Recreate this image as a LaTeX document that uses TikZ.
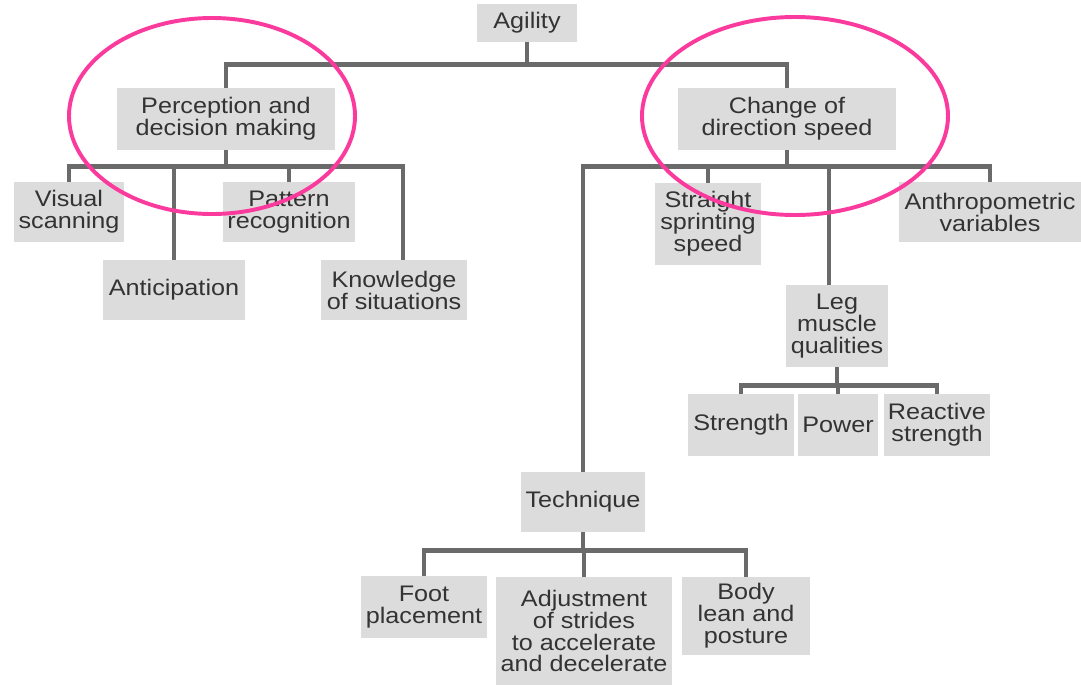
\documentclass[tikz,border=0pt]{standalone}
\usepackage{fontspec}
\setmainfont{Liberation Sans}[FakeStretch=1.12]
\usetikzlibrary{calc}
\definecolor{agilbox}{HTML}{DCDCDC}
\definecolor{agilline}{HTML}{6A6A6A}
\definecolor{agiltext}{HTML}{333333}
\definecolor{agilpink}{HTML}{FA3A9C}

\begin{document}
\begin{tikzpicture}[
    x=0.025cm, y=-0.025cm,
    every node/.style={font=\fontsize{16}{15.6}\selectfont},
    block/.style 2 args={fill=agilbox, text=agiltext, align=center, inner sep=0pt,
                         minimum width=#1, minimum height=#2},
    link/.style={draw=agilline, line width=3.5pt},
    ring/.style={draw=agilpink, line width=2.8pt},
]

% Frame
\useasboundingbox (0,0) rectangle (1081,685);

% =============================================
% TOP: AGILITY AND ITS TWO BRANCHES
% =============================================
\node[block={2.5cm}{0.925cm}] (agility) at (527,23) {Agility};

\node[block={5.45cm}{1.55cm}] (percept) at (226,119) {Perception and\\decision making};
\node[block={5.45cm}{1.55cm}] (change) at (787,119) {Change of\\direction speed};

% === PERCEPTION BRANCH ===
\node[block={2.75cm}{1.5cm}] (visual) at (69,212) {Visual\\scanning};
\node[block={3.55cm}{1.5cm}] (antic) at (174,290) {Anticipation};
\node[block={3.3cm}{1.5cm}] (pattern) at (289,212) {Pattern\\recognition};
\node[block={3.65cm}{1.5cm}] (know) at (394,290) {Knowledge\\of situations};

% === CHANGE OF DIRECTION BRANCH ===
\node[block={2.65cm}{2.05cm}] (straight) at (708,224) {Straight\\sprinting\\speed};
\node[block={4.55cm}{1.5cm}] (anthro) at (990,212) {Anthropometric\\variables};
\node[block={2.55cm}{2.05cm}] (leg) at (837,326) {Leg\\muscle\\qualities};

\node[block={2.65cm}{1.525cm}] (strength) at (741,425) {Strength};
\node[block={1.975cm}{1.525cm}] (power) at (838,425) {Power};
\node[block={2.65cm}{1.525cm}] (react) at (937,425) {Reactive\\strength};

% === TECHNIQUE ===
\node[block={3.1cm}{1.5cm}] (tech) at (583,502) {Technique};
\node[block={3.15cm}{1.55cm}] (foot) at (424,607) {Foot\\placement};
\node[block={4.4cm}{2.7cm}] (adjust) at (584,631) {Adjustment\\of strides\\to accelerate\\and decelerate};
\node[block={3.2cm}{1.95cm}] (body) at (746,616) {Body\\lean and\\posture};

% === LINKS ===
\draw[link] (percept.north) -- ++(0,-23) coordinate (topbar) -| (change.north);
\draw[link] (agility.south) -- (agility.south |- topbar);

\draw[link] (percept.south) -- ++(0,16) coordinate (pbar);
\draw[link] (visual.north) |- ([xshift=0.225cm]know.north |- pbar) -- ([xshift=0.225cm]know.north);
\draw[link] (antic.north) -- (antic.north |- pbar);
\draw[link] (pattern.north) -- (pattern.north |- pbar);

\draw[link] (change.south) -- ++(0,16) coordinate (cbar);
\draw[link] (tech.north) |- (anthro.north |- cbar) -- (anthro.north);
\draw[link] (straight.north) -- (straight.north |- cbar);
\draw[link] ([xshift=-0.2cm]leg.north) -- ([xshift=-0.2cm]leg.north |- cbar);

\draw[link] (leg.south) -- ++(0,18) coordinate (lbar);
\draw[link] (strength.north) |- (react.north |- lbar) -- (react.north);
\draw[link] (power.north) -- (power.north |- lbar);

\draw[link] (tech.south) -- ++(0,18) coordinate (tbar);
\draw[link] (foot.north) |- (body.north |- tbar) -- (body.north);
\draw[link] (adjust.north) -- (adjust.north |- tbar);

% === Highlight rings ===
\draw[ring] (212,116) ellipse [x radius=143, y radius=98];
\draw[ring] (795,116) ellipse [x radius=153, y radius=99];

\end{tikzpicture}
\end{document}
